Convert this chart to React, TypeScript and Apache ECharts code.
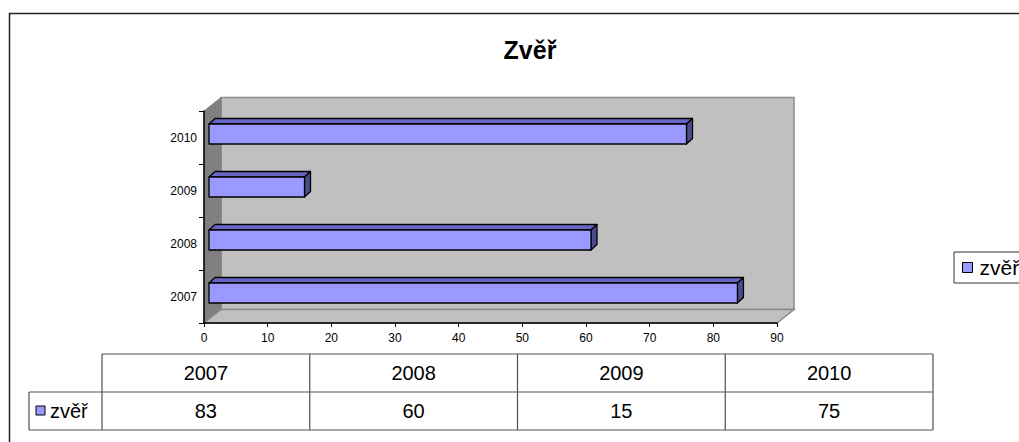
import React, { useEffect, useRef } from 'react';
import * as echarts from 'echarts';

const categories = ['2007', '2008', '2009', '2010'];
const values = [83, 60, 15, 75];
const seriesName = 'zvěř';
const chartTitle = 'Zvěř';
const xMin = 0;
const xMax = 90;
const xStep = 10;

const FONT = '"Liberation Sans", Arial, sans-serif';
const NARROW = '"Liberation Sans Narrow", "Arial Narrow", "Liberation Sans", sans-serif';

export default function App() {
  const ref = useRef<HTMLDivElement>(null);
  useEffect(() => {
    const chart = echarts.init(ref.current!, null, { renderer: 'svg' });

    const DX = 17, DY = -13.5; // wall depth
    const BDX = 5, BDY = -3.5; // bar front face offset
    const BDX2 = 6, BDY2 = -5.5; // bar depth

    const wallsItem = (params: any) => {
      const cs = params.coordSys;
      const x = cs.x, y = cs.y, w = cs.width, h = cs.height;
      return {
        type: 'group',
        children: [
          { type: 'polygon', shape: { points: [[x + DX, y + DY], [x + w + DX, y + DY], [x + w + DX, y + h + DY], [x + DX, y + h + DY]] }, style: { fill: '#c0c0c0', stroke: '#8a8a8a', lineWidth: 1.5 } },
          { type: 'polygon', shape: { points: [[x, y], [x + DX, y + DY], [x + DX, y + h + DY], [x, y + h]] }, style: { fill: '#808080', stroke: '#808080', lineWidth: 1 } },
          { type: 'polygon', shape: { points: [[x, y + h], [x + DX, y + h + DY], [x + w + DX, y + h + DY], [x + w, y + h]] }, style: { fill: '#c0c0c0', stroke: '#8a8a8a', lineWidth: 1.5 } },
        ],
      };
    };

    const barItem = (params: any, api: any) => {
      const v = api.value(0);
      const ci = api.value(1);
      const p0 = api.coord([0, ci]);
      const p1 = api.coord([v, ci]);
      const band = api.size([0, 1])[1];
      const bh = band * 0.378;
      const x0 = p0[0] + BDX, x1 = p1[0] + BDX;
      const yc = p0[1] + BDY;
      const yt = yc - bh / 2, yb = yc + bh / 2;
      const st = { stroke: '#000', lineWidth: 1.3, lineJoin: 'round' };
      return {
        type: 'group',
        children: [
          { type: 'polygon', shape: { points: [[x0, yt], [x0 + BDX2, yt + BDY2], [x1 + BDX2, yt + BDY2], [x1, yt]] }, style: { fill: '#6666c4', ...st } },
          { type: 'polygon', shape: { points: [[x1, yt], [x1 + BDX2, yt + BDY2], [x1 + BDX2, yb + BDY2], [x1, yb]] }, style: { fill: '#4c4c8c', ...st } },
          { type: 'rect', shape: { x: x0, y: yt, width: x1 - x0, height: yb - yt }, style: { fill: '#9999ff', ...st } },
        ],
      };
    };

    // Data table below the chart
    const tX0 = 102, tX1 = 933, tLabelX = 29;
    const tY0 = 354, tY1 = 392, tY2 = 430;
    const colW = (tX1 - tX0) / categories.length;
    const lineStyle = { stroke: '#505050', lineWidth: 1.2 };
    const tableEls: any[] = [
      { type: 'line', shape: { x1: tX0, y1: tY0, x2: tX1, y2: tY0 }, style: lineStyle },
      { type: 'line', shape: { x1: tLabelX, y1: tY1, x2: tX1, y2: tY1 }, style: lineStyle },
      { type: 'line', shape: { x1: tLabelX, y1: tY2, x2: tX1, y2: tY2 }, style: lineStyle },
      { type: 'line', shape: { x1: tLabelX, y1: tY1, x2: tLabelX, y2: tY2 }, style: lineStyle },
    ];
    for (let i = 0; i <= categories.length; i++) {
      const x = tX0 + i * colW;
      tableEls.push({ type: 'line', shape: { x1: x, y1: tY0, x2: x, y2: tY2 }, style: lineStyle });
    }
    categories.forEach((c, i) => {
      tableEls.push({ type: 'text', x: tX0 + (i + 0.5) * colW, y: (tY0 + tY1) / 2, style: { text: c, fill: '#000', font: `20px ${FONT}`, align: 'center', verticalAlign: 'middle' } });
    });
    values.forEach((v, i) => {
      tableEls.push({ type: 'text', x: tX0 + (i + 0.5) * colW, y: (tY1 + tY2) / 2, style: { text: String(v), fill: '#000', font: `20px ${FONT}`, align: 'center', verticalAlign: 'middle' } });
    });
    tableEls.push({ type: 'rect', shape: { x: 36, y: 406, width: 9, height: 9 }, style: { fill: '#9999ff', stroke: '#000', lineWidth: 1 } });
    tableEls.push({ type: 'text', x: 50, y: (tY1 + tY2) / 2, style: { text: seriesName, fill: '#000', font: `20px ${FONT}`, align: 'left', verticalAlign: 'middle' } });

    chart.setOption({
      animation: false,
      backgroundColor: '#fff',
      title: {
        text: chartTitle,
        left: 530,
        top: 37,
        padding: 0,
        textAlign: 'center',
        textStyle: { fontSize: 25, fontWeight: 'bold', color: '#000', fontFamily: FONT },
      },
      legend: {
        left: 954,
        top: 252,
        orient: 'vertical',
        padding: [5, 60, 5, 8],
        borderColor: '#333',
        borderWidth: 1,
        itemWidth: 10,
        itemHeight: 10,
        itemGap: 6,
        textStyle: { fontSize: 21, color: '#000', fontFamily: FONT, padding: [0, 0, 0, 2] },
        data: [{ name: seriesName, icon: 'rect', itemStyle: { color: '#9999ff', borderColor: '#000', borderWidth: 1 } }],
      },
      grid: { left: 204, top: 111, width: 573, height: 212, containLabel: false },
      xAxis: {
        type: 'value',
        min: xMin,
        max: xMax,
        interval: xStep,
        z: 5,
        axisLine: { show: true, lineStyle: { color: '#000', width: 1.5 } },
        axisTick: { show: true, length: 4, lineStyle: { color: '#000' } },
        splitLine: { show: false },
        axisLabel: { color: '#000', fontSize: 12, fontFamily: NARROW, margin: 9 },
      },
      yAxis: {
        type: 'category',
        data: categories,
        z: 5,
        axisLine: { show: true, lineStyle: { color: '#000', width: 1.5 } },
        axisTick: { show: true, length: 5, lineStyle: { color: '#000' } },
        splitLine: { show: false },
        axisLabel: { color: '#000', fontSize: 12, fontFamily: FONT, margin: 7 },
      },
      series: [
        {
          type: 'custom',
          name: '__walls',
          silent: true,
          z: 1,
          renderItem: wallsItem,
          data: [[0, 0]],
          encode: { x: 0, y: 1 },
          tooltip: { show: false },
        },
        {
          type: 'custom',
          name: seriesName,
          z: 6,
          itemStyle: { color: '#9999ff' },
          renderItem: barItem,
          data: values.map((v, i) => [v, i]),
          encode: { x: 0, y: 1 },
        },
      ],
      graphic: [
        { type: 'rect', shape: { x: 9.5, y: 13.5, width: 1200, height: 600 }, style: { fill: 'none', stroke: '#222', lineWidth: 1.5 }, z: 0, silent: true },
        ...tableEls,
      ],
    });
    return () => chart.dispose();
  }, []);
  return <div ref={ref} style={{ position: 'absolute', left: 0, top: 0, width: 1019, height: 442 }} />;
}
